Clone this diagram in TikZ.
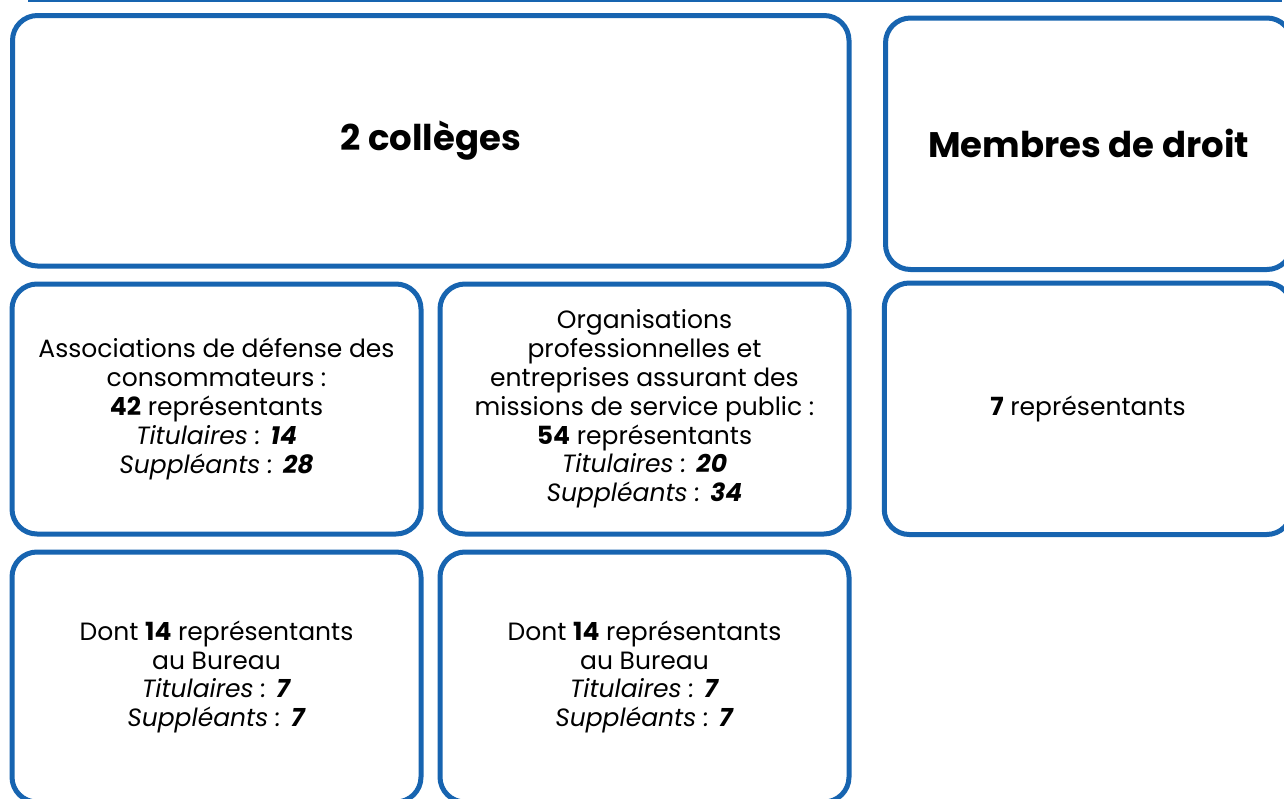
\documentclass[tikz,border=0pt]{standalone}
\usepackage{fontspec}
\setmainfont{Poppins}
\definecolor{boxblue}{HTML}{1764B0}
\begin{document}
\begin{tikzpicture}[x=1pt,y=-1pt,
  panel/.style={draw=boxblue,line width=5pt,rounded corners=25pt,fill=white,inner sep=0pt,align=center},
  head/.style={font=\fontsize{35.5}{42}\selectfont\bfseries},
  body/.style={font=\fontsize{25}{28.8}\selectfont}]
\useasboundingbox (0,0) rectangle (1284,798);
\clip (0,0) rectangle (1284,798);
\coordinate (ls) at (28,0.8);
\coordinate (le) at (1282,0.8);
\draw[boxblue,line width=1.6pt] (ls) -- (le);
\node[panel,head,minimum width=836.5pt,minimum height=250.5pt] (college) at (430.75,140.75) {2 collèges};
\node[panel,head,minimum width=406.5pt,minimum height=251.5pt] (droit) at (1088.75,143.75) {Membres de droit};
\node[panel,body,minimum width=409pt,minimum height=250pt] (assoc) at (216.5,409) {Associations de défense des\\consommateurs :\\\textbf{42} représentants\\\textit{Titulaires : \textbf{14}}\\\textit{Suppléants : \textbf{28}}};
\node[panel,body,minimum width=409pt,minimum height=250pt] (orga) at (644.5,409) {Organisations\\professionnelles et\\entreprises assurant des\\missions de service public :\\\textbf{54} représentants\\\textit{Titulaires : \textbf{20}}\\\textit{Suppléants : \textbf{34}}};
\node[panel,body,minimum width=407.5pt,minimum height=251.5pt] (membres) at (1088,408.75) {\textbf{7} représentants};
\node[panel,body,minimum width=409pt,minimum height=250pt] (bureau1) at (216.5,677) {Dont \textbf{14} représentants\\au Bureau\\\textit{Titulaires : \textbf{7}}\\\textit{Suppléants : \textbf{7}}};
\node[panel,body,minimum width=409pt,minimum height=250pt] (bureau2) at (644.5,677) {Dont \textbf{14} représentants\\au Bureau\\\textit{Titulaires : \textbf{7}}\\\textit{Suppléants : \textbf{7}}};
\end{tikzpicture}
\end{document}
